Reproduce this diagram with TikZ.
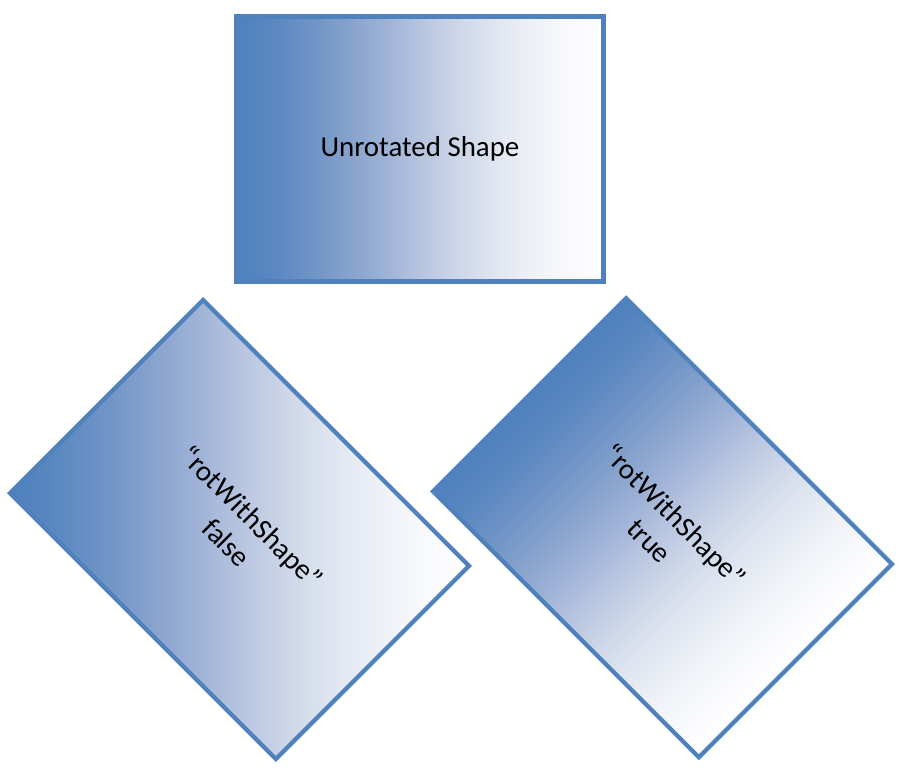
\documentclass[tikz,border=0pt]{standalone}
\usepackage{fontspec}
\setmainfont{Carlito}
\definecolor{bordercol}{HTML}{4F81BD}
\definecolor{g0}{HTML}{4F81BD}
\definecolor{g1}{HTML}{5A88C0}
\definecolor{g2}{HTML}{6E93C6}
\definecolor{g3}{HTML}{85A1CC}
\definecolor{g4}{HTML}{9DB1D6}
\definecolor{g5}{HTML}{B6C4DF}
\definecolor{g6}{HTML}{CDD6E8}
\definecolor{g7}{HTML}{DFE5F0}
\definecolor{g8}{HTML}{EDF0F6}
\definecolor{g9}{HTML}{F8F9FC}
\definecolor{g10}{HTML}{FFFFFF}
\pgfdeclarehorizontalshading{officegrad}{100bp}{color(0bp)=(g0); color(25bp)=(g0); color(30bp)=(g1); color(35bp)=(g2); color(40bp)=(g3); color(45bp)=(g4); color(50bp)=(g5); color(55bp)=(g6); color(60bp)=(g7); color(65bp)=(g8); color(70bp)=(g9); color(75bp)=(g10); color(100bp)=(g10)}
\tikzset{
  shapebox/.style={draw=bordercol, line width=4.2bp, shade, shading=officegrad,
    inner sep=0pt, align=center, text=black,
    font=\fontsize{29}{36}\selectfont},
  topsize/.style={minimum width=367bp, minimum height=265bp},
  rotsize/.style={minimum width=376bp, minimum height=273bp}
}
\begin{document}
\begin{tikzpicture}[x=1bp,y=1bp]
\useasboundingbox (0,0) rectangle (909,779);
% unrotated shape
\node[shapebox, topsize] (unrot) at (420,630) {Unrotated Shape};
% rotWithShape false: gradient stays horizontal on the page
\node[shapebox, rotsize, rotate=-45] (rotfalse) at (239.5,249.5) {“rotWithShape”\\false};
% rotWithShape true: gradient turns with the shape
\begin{scope}[transform canvas={rotate around={-45:(662.5,251.25)}}]
\node[shapebox, rotsize] (rottrue) at (662.5,251.25) {“rotWithShape”\\true};
\end{scope}
\end{tikzpicture}
\end{document}
